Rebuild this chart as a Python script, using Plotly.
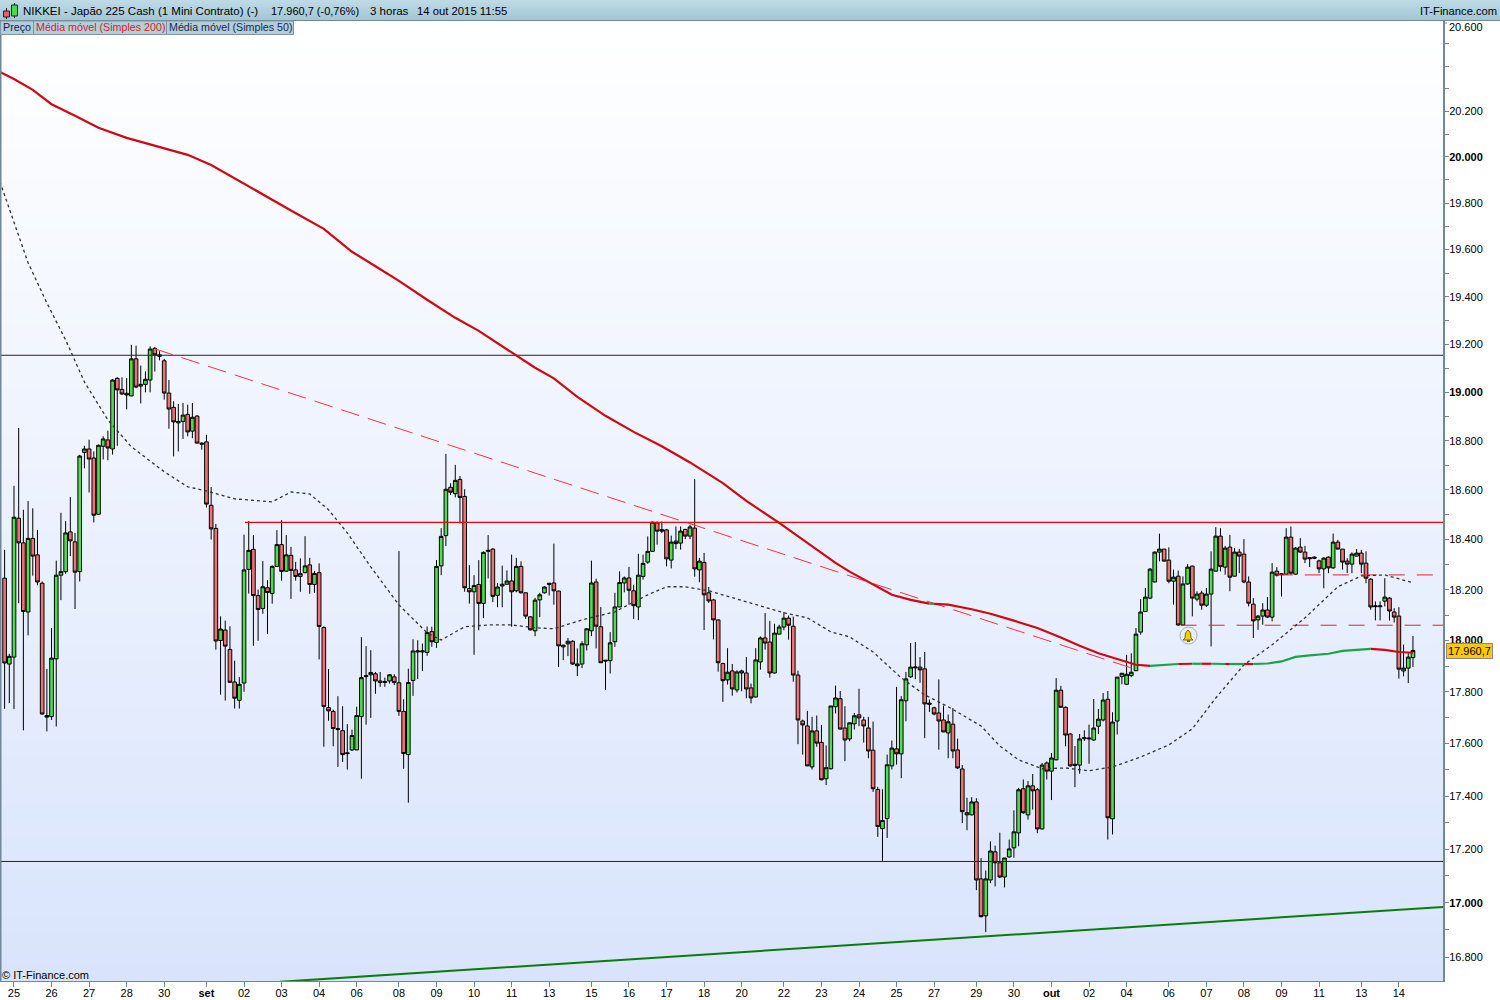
import math
import plotly.graph_objects as go

directions = ("rggrrgrrrr" "ggggrrggrr" "ggrgrrrgrg" "ggrrrrrggr" "grrrrrgrrr" "gggrrgrggr"
              "grrggrgrrr" "rrrrgggrgr" "rrgrrrgggg" "grgggrgrrr" "grggrgggrg" "rrrgggrrrg"
              "grggggrrrg" "gggrrggggr" "rrgrgrgrgr" "rrrrgrgrrr" "ggrrgggrrr" "rrgrrgggrr"
              "ggrrrrrggg" "rggggrrrrr" "rgrrrrgrrg" "grrggggrgr" "rgrggrrrrg" "gggggrgggg"
              "gggggggrrg" "rggrgrgggr" "grgrrrrggr" "grggrgrrrr" "rgrgrrrggr" "rrgggrrrgg" "g")

highs = [18359,17948,18617,18853,18520,18555,18526,18439,18233,17889,
18049,18316,18508,18474,18571,18427,18743,18780,18805,18757,
18785,18819,18842,19055,19063,19062,19059,19198,19194,19111,
19087,19191,19189,19171,19139,19051,18963,18952,18956,18949,
18956,18906,18794,18825,18612,18463,18095,18078,18056,17921,
17857,18420,18474,18418,18201,18314,18238,18297,18438,18478,
18418,18371,18311,18325,18414,18327,18275,18305,18056,17888,
17731,17783,17744,17675,17654,17742,18013,17978,17962,17877,
17877,17855,17868,17868,18354,17771,17890,18005,18001,17988,
18055,18054,18318,18446,18747,18627,18702,18657,18603,18298,
18258,18318,18353,18418,18366,18227,18296,18277,18340,18327,
18313,18190,18096,18168,18188,18214,18227,18384,18196,17982,
18010,18001,17969,17997,18046,18316,18244,18132,17923,18033,
18188,18273,18253,18291,18220,18343,18340,18413,18473,18473,
18473,18443,18416,18453,18453,18443,18460,18644,18327,18347,
18211,18164,18082,17913,17970,17908,17884,17886,17935,17832,
17970,18016,18108,18077,18066,18062,18112,18098,18094,17882,
17692,17726,17703,17708,17672,17593,17745,17824,17803,17744,
17682,17718,17812,17703,17703,17685,17435,17426,17558,17612,
17819,17783,17877,17990,17994,17935,17955,17770,17742,17848,
17747,17712,17737,17619,17518,17394,17396,17392,17167,17120,
17229,17213,17262,17167,17236,17346,17431,17463,17457,17484,
17431,17526,17532,17564,17853,17823,17743,17641,17591,17637,
17651,17673,17772,17733,17795,17803,17721,17857,17872,17944,
17950,18049,18163,18207,18286,18353,18424,18362,18369,18280,
18276,18253,18302,18296,18194,18196,18207,18353,18450,18446,
18375,18419,18366,18363,18402,18253,18167,18101,18147,18171,
18306,18290,18266,18446,18453,18370,18406,18375,18330,18333,
18320,18329,18333,18424,18399,18362,18326,18349,18362,18359,
18353,18246,18154,18154,18246,18171,18127,18131,17984,17951,
18018]

body_top = [18246,17938,18490,18486,18387,18405,18405,18339,18226,17708,
17931,18258,18272,18427,18431,18391,18738,18767,18767,18730,
18782,18808,18804,19051,19058,19012,18996,19139,19139,19033,
19054,19180,19183,19156,19131,18997,18938,18880,18906,18909,
18897,18902,18791,18796,18538,18445,18045,18041,17965,17838,
17829,18279,18357,18361,18177,18212,18208,18293,18380,18380,
18339,18337,18279,18264,18295,18299,18265,18268,18051,17739,
17724,17658,17650,17565,17631,17708,17855,17863,17875,17870,
17842,17840,17866,17858,17835,17724,17836,17959,17959,17959,
18031,18035,18293,18413,18603,18611,18639,18643,18574,18205,
18217,18221,18349,18357,18362,18211,18222,18235,18235,18293,
18293,18188,18093,18159,18180,18211,18226,18227,18195,17982,
17997,17997,17908,17987,18046,18227,18231,18054,17923,17991,
18132,18229,18247,18247,18196,18258,18305,18353,18470,18467,
18440,18439,18390,18394,18434,18441,18451,18446,18314,18309,
18188,18160,18081,17910,17876,17881,17877,17881,17873,17815,
17924,18010,18010,17994,18029,18053,18088,18088,18056,17865,
17687,17668,17649,17649,17605,17508,17745,17776,17773,17660,
17680,17707,17711,17691,17660,17575,17425,17308,17519,17583,
17580,17769,17850,17896,17896,17896,17889,17756,17738,17718,
17691,17684,17675,17576,17503,17337,17378,17378,17089,17089,
17193,17190,17149,17167,17201,17265,17424,17428,17439,17439,
17424,17518,17526,17545,17806,17806,17740,17637,17521,17618,
17623,17621,17660,17694,17768,17771,17683,17857,17872,17868,
17876,18025,18112,18171,18282,18350,18362,18362,18318,18250,
18254,18223,18290,18294,18183,18187,18183,18282,18414,18414,
18366,18370,18350,18350,18342,18231,18143,18096,18120,18120,
18270,18274,18263,18410,18410,18366,18370,18350,18328,18330,
18315,18326,18330,18390,18390,18362,18314,18342,18346,18346,
18306,18242,18136,18136,18171,18167,18112,18096,17892,17935,
17960.7]

body_bottom = [17912,17908,17935,18387,18114,18112,18334,18231,17714,17702,
17704,17928,18258,18272,18395,18270,18272,18753,18726,18498,
18502,18778,18771,18767,19010,18993,18989,18985,19022,19026,
19033,19051,19156,19150,18997,18931,18878,18874,18880,18837,
18840,18791,18787,18543,18443,17998,18000,17978,17837,17775,
17767,17834,18281,18177,18122,18126,18189,18185,18293,18273,
18274,18277,18253,18253,18268,18221,18221,18055,17743,17726,
17658,17654,17558,17562,17576,17576,17704,17859,17866,17842,
17836,17836,17842,17836,17724,17562,17558,17844,17955,17955,
17953,17995,17992,18295,18416,18591,18585,18570,18208,18192,
18192,18146,18146,18353,18174,18178,18215,18222,18192,18196,
18188,18096,18042,18038,18160,18188,18222,18196,17979,17975,
17987,17908,17901,17908,17983,18038,18056,17913,17920,17921,
17995,18132,18227,18198,18137,18132,18253,18310,18353,18434,
18434,18323,18318,18384,18386,18414,18414,18283,18279,18180,
18156,18081,17913,17843,17846,17811,17807,17873,17811,17776,
17780,17916,17990,17873,17873,18025,18053,18060,17865,17691,
17672,17515,17511,17602,17462,17466,17504,17742,17656,17614,
17618,17676,17699,17668,17572,17428,17285,17277,17315,17515,
17561,17561,17765,17858,17893,17885,17753,17752,17714,17687,
17645,17641,17572,17507,17341,17329,17329,17085,16949,16952,
17085,17149,17096,17096,17171,17205,17261,17337,17329,17420,
17276,17276,17495,17495,17538,17740,17633,17515,17517,17518,
17619,17618,17614,17667,17691,17318,17314,17687,17859,17829,
17863,17882,18033,18114,18167,18231,18350,18314,18234,18234,
18061,18061,18223,18167,18163,18139,18139,18183,18274,18292,
18290,18250,18254,18334,18231,18147,18077,18081,18096,18092,
18092,18258,18260,18262,18266,18262,18350,18322,18324,18326,
18283,18283,18287,18287,18362,18310,18302,18302,18334,18302,
18246,18132,18133,18133,18155,18116,18092,17888,17881,17892,
17933]

lows = [17734,17756,17733,18147,17651,18020,18256,18218,17711,17647,
17691,17666,18159,18263,18334,18124,18233,18688,18590,18469,
18499,18724,18721,18744,18780,18990,18930,18984,19017,18954,
19000,19000,19086,19133,18970,18850,18737,18757,18808,18819,
18811,18789,18764,18529,18400,17964,17789,17766,17834,17735,
17735,17800,18185,17979,17999,18105,18025,18145,18292,18236,
18271,18164,18236,18192,18265,18184,18188,17926,17588,17688,
17590,17511,17530,17501,17572,17575,17466,17673,17699,17792,
17819,17819,17832,17826,17707,17504,17375,17784,17849,17881,
17940,17975,17971,18258,18374,18580,18570,18465,18192,18145,
17944,18040,18088,18245,18151,18131,18131,18219,18054,18190,
18185,18085,18039,18017,18092,18185,18177,18141,17896,17923,
17939,17904,17861,17892,17961,18017,17969,17912,17807,17871,
17975,18131,18190,18141,18084,18080,18240,18303,18351,18380,
18426,18293,18285,18362,18360,18402,18402,18252,18230,18041,
18148,18004,17878,17761,17828,17785,17797,17802,17775,17755,
17778,17886,17964,17855,17871,18023,18040,18003,17839,17598,
17558,17514,17501,17588,17460,17442,17501,17716,17654,17533,
17609,17654,17667,17604,17544,17416,17246,17156,17242,17501,
17520,17468,17686,17854,17849,17835,17621,17722,17709,17577,
17644,17544,17544,17503,17298,17271,17327,17047,16946,16892,
17073,17061,17092,17057,17168,17168,17211,17333,17311,17349,
17260,17274,17463,17385,17536,17738,17590,17512,17434,17485,
17610,17523,17611,17637,17685,17236,17255,17635,17829,17826,
17857,17880,18023,18114,18163,18230,18313,18313,18226,18141,
18058,18058,18220,18095,18154,18121,18132,17977,18272,18273,
18260,18194,18253,18266,18226,18134,18010,18042,18062,18088,
18075,18253,18173,18260,18260,18260,18346,18306,18290,18322,
18266,18206,18266,18283,18361,18280,18266,18266,18333,18266,
18226,18121,18079,18079,18134,18078,18071,17851,17860,17834,
17896]

sma200_idx = [-1,2,6,10,15,20,26,32,39,44,50,56,61,68,74,79,84,90,96,101,108,113,117,122,128,134,140,146,153,158,
              165,170,177,180,185,189,193,197,198,201,206,210,215,220,225,229,233,238,241,
              244,250,253,255,257,260,261,264,266,269,272,275,278,282,285,288,291,294,297,300]
sma200_val = [20374,20342,20294,20231,20180,20127,20083,20048,20009,19965,19894,19825,19768,19689,19591,19529,19467,19387,19311,19256,19168,19102,19058,18981,18903,18837,18778,18712,18628,18556,
              18467,18399,18307,18272,18220,18180,18160,18145,18144,18141,18123,18105,18078,18049,18012,17979,17950,17922,17905,
              17901,17908,17909,17909,17909,17908,17908,17908,17908,17910,17918,17936,17942,17948,17959,17964,17967,17963,17955,17952]
sma200_color = ["r"]*37 + ["g"] + ["r"]*11 + list("grgrgrgrg" "ggggggg" "rrrr")

sma50_idx = [-1,2,5,9,13,17,22,27,34,39,43,49,57,61,65,69,73,78,84,90,93,98,103,108,113,117,123,130,137,141,145,150,155,166,171,176,180,185,191,196,201,208,212,216,221,226,231,236,242,248,253,258,264,270,277,284,289,294,300]
sma50_val = [19892,19719,19544,19374,19218,19043,18886,18776,18674,18613,18596,18564,18552,18592,18584,18520,18427,18291,18140,18030,18002,18054,18061,18061,18050,18046,18081,18113,18180,18212,18212,18196,18168,18109,18089,18034,18014,17955,17854,17788,17742,17668,17591,17538,17504,17507,17496,17511,17549,17595,17657,17776,17905,17983,18089,18212,18255,18259,18228]

resistance_red = 18469
level_upper = 19154
level_lower = 17154
dash_level_a = 18259
dash_level_b = 18060
trend_idx = [32, 240]
trend_val = [19181, 17893]
support_idx = [58.7, 306.4]
support_val = [16710, 16985]

tick_idx = [2,10,18,26,34,43,51,59,67,75,84,92,100,108,116,125,133,141,149,157,166,174,182,190,198,207,215,223,231,239,248,256,264,272,280,289,297]
tick_text = ["25","26","27","28","30","<b>set</b>","02","03","04","06","08","09","10","11","13","15","16","17","18","20","22","23","24","25","27","29","30","<b>out</b>","02","04","06","07","08","09","11","13","14"]
price_ticks = list(range(16800, 20600, 100))
price_labels = {16800:"16.800",17000:"<b>17.000</b>",17200:"17.200",17400:"17.400",17600:"17.600",17800:"17.800",18000:"<b>18.000</b>",18200:"18.200",18400:"18.400",18600:"18.600",18800:"18.800",19000:"<b>19.000</b>",19200:"19.200",19400:"19.400",19600:"19.600",19800:"19.800",20000:"<b>20.000</b>",20200:"20.200"}

W, H = 1500, 1000
R_PX, T_PX, B_PX = 1443, 21, 981
FONT = "Liberation Sans"
SLATE = "#70889a"
def X(px): return px / R_PX
def Y(py): return (B_PX - py) / (B_PX - T_PX)

opens = [b if d == "g" else t for d, t, b in zip(directions, body_top, body_bottom)]
closes = [t if d == "g" else b for d, t, b in zip(directions, body_top, body_bottom)]
idx = list(range(len(highs)))

fig = go.Figure()
fig.add_trace(go.Candlestick(x=idx, open=opens, high=highs, low=lows, close=closes, whiskerwidth=0,
    increasing=dict(line=dict(color="#000000", width=1), fillcolor="#4fdc4f"),
    decreasing=dict(line=dict(color="#000000", width=1), fillcolor="#ee7272"), hoverinfo="skip", showlegend=False))

def line(x, y, color, width, dash="solid"):
    fig.add_trace(go.Scatter(x=x, y=y, mode="lines", line=dict(color=color, width=width, dash=dash), hoverinfo="skip", showlegend=False))

x_end = 306.4
line([-1, x_end], [level_upper]*2, "#222222", 1)
line([-1, x_end], [level_lower]*2, "#222222", 1)
line([51.2, x_end], [resistance_red]*2, "#f40000", 1.2)
line(trend_idx, trend_val, "#ff3040", 1, "19px,9px")
line(support_idx, support_val, "#0a7d0a", 2)
line([271, 305], [dash_level_a]*2, "#e82020", 1, "16px,12px")
line([250.5, x_end], [dash_level_b]*2, "#e82020", 1, "16px,12px")
line(sma50_idx, sma50_val, "#333333", 1.3, "3px,3px")

# long average: one run per colour
colors = {"r": "#d00812", "g": "#18a54a"}
start = 0
for k in range(1, len(sma200_idx)):
    if k == len(sma200_idx) - 1 or sma200_color[k] != sma200_color[start]:
        line(sma200_idx[start:k+1], sma200_val[start:k+1], colors[sma200_color[start]], 2.2)
        start = k

shapes = []
N = 60
c0, c1 = (255, 255, 255), (217, 228, 252)
for j in range(N):
    t = j / (N - 1)
    col = "rgb(%d,%d,%d)" % tuple(round(a + (b - a) * t) for a, b in zip(c0, c1))
    shapes.append(dict(type="rect", xref="paper", yref="paper", x0=0, x1=1, y1=1 - j / N, y0=1 - (j + 1) / N,
                       fillcolor=col, line_width=0, layer="below"))
for j in range(21):
    t = j / 20
    col = "rgb(%d,%d,%d)" % (round(190 - 28 * t), round(218 - 20 * t), round(230 - 18 * t))
    shapes.append(dict(type="rect", xref="paper", yref="paper", x0=0, x1=X(1500), y0=Y(j + 1), y1=Y(j), fillcolor=col, line_width=0, layer="above"))
shapes.append(dict(type="line", xref="paper", yref="paper", x0=0, x1=X(1500), y0=Y(20.5), y1=Y(20.5), line=dict(color=SLATE, width=1), layer="above"))
shapes.append(dict(type="line", xref="paper", yref="paper", x0=X(0.5), x1=X(0.5), y0=Y(981), y1=Y(21), line=dict(color=SLATE, width=2), layer="above"))
for a, b in [(0, 33), (33, 166), (166, 293)]:
    shapes.append(dict(type="rect", xref="paper", yref="paper", x0=X(a + .5), x1=X(b + .5), y0=Y(34.5), y1=Y(21), fillcolor="#b3cdd9", line=dict(color="#7d97a5", width=1), layer="above"))
shapes.append(dict(type="line", xref="paper", yref="paper", x0=X(6.5), x1=X(6.5), y0=Y(19), y1=Y(8), line=dict(color="#222", width=1), layer="above"))
shapes.append(dict(type="rect", xref="paper", yref="paper", x0=X(3.5), x1=X(9.5), y0=Y(17), y1=Y(11), fillcolor="#e86464", line=dict(color="#222", width=1), layer="above"))
shapes.append(dict(type="line", xref="paper", yref="paper", x0=X(14.5), x1=X(14.5), y0=Y(18), y1=Y(3), line=dict(color="#222", width=1), layer="above"))
shapes.append(dict(type="rect", xref="paper", yref="paper", x0=X(11.5), x1=X(17.5), y0=Y(16), y1=Y(5), fillcolor="#44dd44", line=dict(color="#222", width=1), layer="above"))
shapes.append(dict(type="line", xref="paper", yref="paper", x0=X(1443), x1=X(1447), y0=Y(23), y1=Y(23), line=dict(color=SLATE, width=1), layer="above"))
shapes.append(dict(type="circle", xref="paper", yref="paper", x0=X(1180), x1=X(1197), y0=Y(644), y1=Y(627), fillcolor="#e8eef5", line=dict(color="#9fb0c0", width=1), layer="above"))
pts = [(1183,640),(1185,638),(1185.5,633),(1188,630),(1190.5,633),(1191,638),(1193,640)]
path = "M " + " L ".join("%.5f,%.5f" % (X(a), Y(b)) for a, b in pts) + " Z"
shapes.append(dict(type="path", xref="paper", yref="paper", path=path, fillcolor="#f5d000", line=dict(color="#806a00", width=1), layer="above"))
shapes.append(dict(type="rect", xref="paper", yref="paper", x0=X(1187), x1=X(1190), y0=Y(642), y1=Y(640), fillcolor="#806a00", line_width=0, layer="above"))

def text(px, py, s, size=11, color="#000000", anchor="left", **kw):
    return dict(xref="paper", yref="paper", x=X(px), y=Y(py), text=s, showarrow=False, xanchor=anchor, yanchor="middle",
                font=dict(family=FONT, size=size, color=color), **kw)

annotations = [
    text(21, 11, "NIKKEI - Japão 225 Cash (1 Mini Contrato) (-)", 11.5),
    text(269, 11, "17.960,7 (-0,76%)", 11),
    text(368, 11, "3 horas", 11.5),
    text(415, 11, "14 out 2015 11:55", 11.3),
    text(1499, 11, "IT-Finance.com", 11.2, anchor="right"),
    text(1, 27.5, "Preço", 10.7, "#10204a"),
    text(34, 27.5, "Média móvel (Simples 200)", 10.7, "#d81e2c"),
    text(167, 27.5, "Média móvel (Simples 50)", 10.7, "#182a50"),
    text(0, 975, "© IT-Finance.com", 11),
    text(1447, 27, "20.600", 11),
    text(1469.5, 651, "17.960,7", 11, anchor="center", bgcolor="#ffc800", bordercolor="#8a8a8a", borderwidth=1, borderpad=1),
]

fig.update_layout(
    width=W, height=H, autosize=False, margin=dict(l=0, r=W - R_PX, t=T_PX, b=H - B_PX, pad=0),
    paper_bgcolor="#ffffff", plot_bgcolor="#ffffff", showlegend=False, boxgap=0.22, boxgroupgap=0, shapes=shapes, annotations=annotations,
    font=dict(family=FONT, size=11, color="#000000"),
    xaxis=dict(range=[-0.98, x_end], type="linear", rangeslider=dict(visible=False), showgrid=False, zeroline=False, automargin=False,
               tickmode="array", tickvals=tick_idx, ticktext=tick_text, ticks="outside", ticklen=5, tickcolor=SLATE, tickwidth=1,
               showline=True, linecolor=SLATE, linewidth=1, tickfont=dict(family=FONT, size=11), tickangle=0, ticklabelstandoff=-3),
    yaxis=dict(type="log", side="right", range=[math.log10(16713), math.log10(20601)], showgrid=False, zeroline=False, automargin=False,
               tickmode="array", tickvals=price_ticks, ticktext=[price_labels.get(v, "") for v in price_ticks],
               ticks="outside", ticklen=4, tickcolor=SLATE, tickwidth=1, showline=True, linecolor=SLATE, linewidth=2,
               tickfont=dict(family=FONT, size=11), ticklabelstandoff=-2),
)
fig.write_html("out.html", config=dict(displayModeBar=False), post_script="document.body.style.margin='0';")
